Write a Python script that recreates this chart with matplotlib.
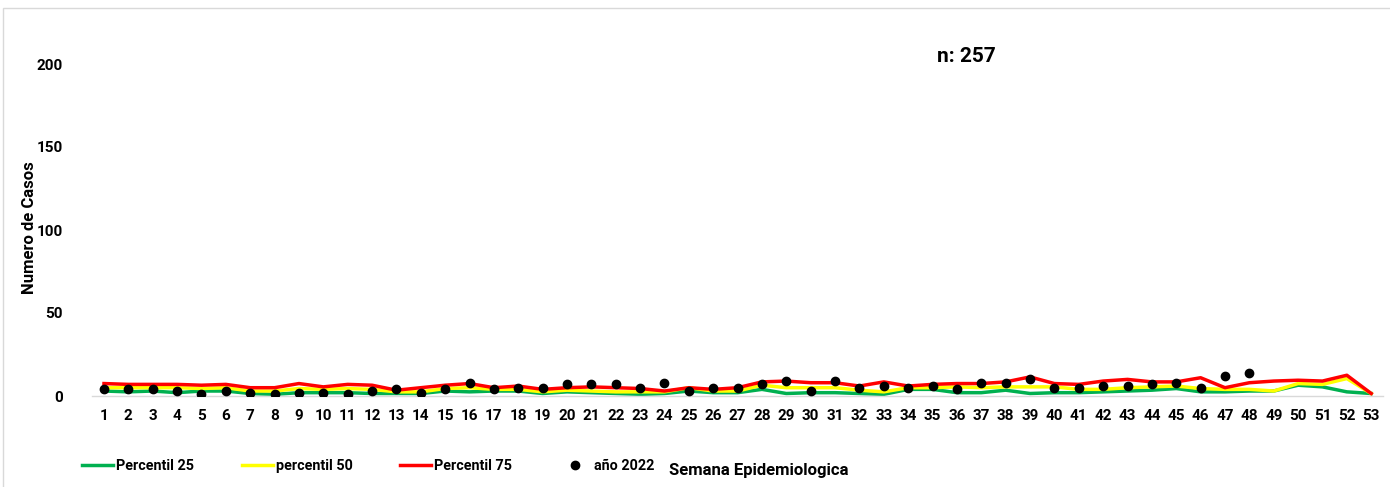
import matplotlib
matplotlib.use("Agg")
import matplotlib.pyplot as plt
from matplotlib.patches import Rectangle

plt.rcParams['font.family'] = ['Roboto', 'DejaVu Sans']
plt.rcParams['font.weight'] = 'bold'

# semanas epidemiologicas
weeks = list(range(1, 54))

# percentiles del canal endemico
p25 = [3, 2.5, 3, 2, 3, 3, 1.5, 1, 2, 2, 2, 1.5, 1.5, 1.5, 3, 2.5, 3, 3, 1.5, 2.5,
       2, 1.5, 1, 1.5, 3, 2, 2, 4, 1.5, 2, 2, 1.5, 1, 4, 4, 2, 2, 3.5, 1.5, 2,
       2, 2.5, 3, 3.5, 4.5, 2.5, 2.5, 3, 3, 6.5, 5.5, 2.5, 1.5]
p50 = [5, 5, 5, 5, 4.5, 5, 3, 3, 4.5, 4, 4.5, 4, 2.5, 2.5, 4.5, 5, 4, 4, 2.5, 3.5,
       3, 2.5, 2.5, 2.5, 5, 3, 3, 6.5, 5, 5, 5, 3.5, 2.5, 5, 5, 5.5, 5, 5.5, 5.5, 5.5,
       4, 4, 5, 5.5, 6, 4.5, 4, 4, 3, 7.5, 7, 10.5, 1.5]
p75 = [7.5, 7, 7, 7, 6.5, 7, 5, 5, 7.5, 5.5, 7, 6.5, 3.5, 5, 6.5, 7.5, 5, 6, 4, 5,
       5.5, 5, 4.5, 3, 5, 4, 5, 8.5, 9, 8, 8, 6, 8.5, 6, 7, 7.5, 7.5, 8.5, 11.5, 7.5,
       7, 9, 10, 8.5, 8.5, 11, 5, 8, 9, 9.5, 9, 12.5, 1.5]

# casos 2022 (semanas 1-48)
weeks_2022 = list(range(1, 49))
cases_2022 = [4, 4, 4, 3, 1, 3, 2, 1, 2, 2, 1, 3, 4, 2, 4, 8, 4, 5, 5, 7,
              7, 7, 5, 8, 3, 5, 5, 7, 9, 3, 9, 5, 6, 5, 6, 4, 8, 8, 10, 5,
              5, 6, 6, 7, 8, 5, 12, 14]

W, H = 1390, 487
fig = plt.figure(figsize=(W / 100, H / 100), dpi=100)
ax = fig.add_axes([91.8 / W, (H - 396) / H, (1383.4 - 91.8) / W, (396 - 64) / H])

l25, = ax.plot(weeks, p25, color='#00B050', lw=2.5, label='Percentil 25')
l50, = ax.plot(weeks, p50, color='#FFFF00', lw=2.5, label='percentil 50')
l75, = ax.plot(weeks, p75, color='#FF0000', lw=2.5, label='Percentil 75')
d22, = ax.plot(weeks_2022, cases_2022, 'o', color='black', ms=6, label='año 2022', zorder=5)

ax.set_xlim(0.5, 53.5)
ax.set_ylim(0, 200)
ax.set_xticks(weeks)
ax.set_yticks([0, 50, 100, 150, 200])
ax.tick_params(axis='x', length=0, pad=9, labelsize=11)
ax.tick_params(axis='y', length=0, pad=21, labelsize=11)
for lbl in ax.get_xticklabels() + ax.get_yticklabels():
    lbl.set_fontweight('bold')
for s in ['top', 'right', 'left']:
    ax.spines[s].set_visible(False)
ax.spines['bottom'].set_color('#d9d9d9')
ax.spines['bottom'].set_linewidth(1)

leg = fig.legend(handles=[l25, l50, l75, d22], loc='center left',
                 bbox_to_anchor=(82 / W, (H - 466) / H), ncol=4, frameon=False,
                 prop={'size': 10.4, 'weight': 'bold'}, handlelength=2.15,
                 handletextpad=0.2, columnspacing=3.3, borderpad=0, borderaxespad=0)

fig.text(669 / W, (H - 470) / H, 'Semana Epidemiologica', fontsize=12,
         fontweight='bold', ha='left', va='center')
fig.text(30 / W, (H - 228) / H, 'Numero de Casos', fontsize=12,
         fontweight='bold', rotation=90, ha='center', va='center')
fig.text(966 / W, (H - 57) / H, 'n: 257', fontsize=15,
         fontweight='bold', ha='center', va='center')

# borde del area del grafico
fig.add_artist(Rectangle((3 / W, -0.1), 1.2, (H - 8) / H + 0.1,
                         transform=fig.transFigure, fill=False,
                         edgecolor='#d9d9d9', lw=1))

fig.savefig('out.png', dpi=100)
